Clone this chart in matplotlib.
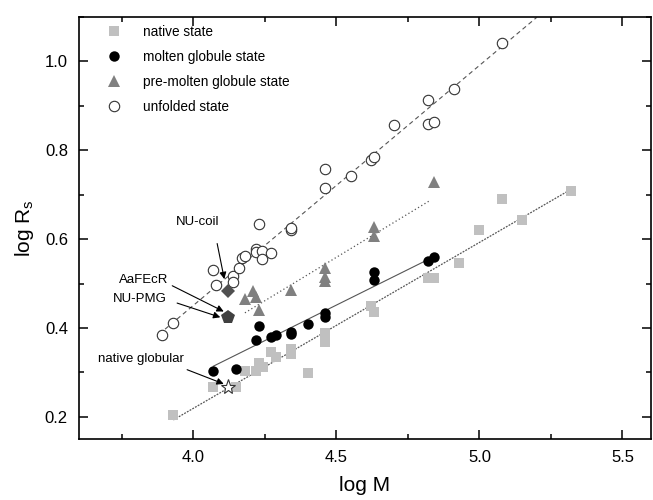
import numpy as np
import matplotlib
matplotlib.use("Agg")
import matplotlib.pyplot as plt
from matplotlib.ticker import MultipleLocator

plt.rcParams['font.family'] = ['Liberation Sans', 'DejaVu Sans']
plt.rcParams['mathtext.default'] = 'regular'

# native state (grey squares)
native_x = [3.93, 4.07, 4.15, 4.18, 4.22, 4.23, 4.245, 4.27, 4.29, 4.34, 4.34, 4.40,
            4.46, 4.46, 4.46, 4.62, 4.63, 4.82, 4.84, 4.93, 5.00, 5.08, 5.15, 5.32]
native_y = [0.205, 0.268, 0.268, 0.303, 0.303, 0.322, 0.312, 0.345, 0.334, 0.352, 0.342, 0.298,
            0.389, 0.379, 0.369, 0.449, 0.437, 0.512, 0.513, 0.547, 0.620, 0.690, 0.643, 0.708]

# molten globule state (black circles)
mg_x = [4.07, 4.15, 4.22, 4.23, 4.27, 4.29, 4.34, 4.34, 4.40, 4.46, 4.46, 4.63, 4.63, 4.82, 4.84]
mg_y = [0.304, 0.307, 0.373, 0.404, 0.380, 0.385, 0.387, 0.392, 0.409, 0.433, 0.424,
        0.525, 0.507, 0.551, 0.560]

# pre-molten globule state (grey triangles)
pmg_x = [4.18, 4.21, 4.22, 4.23, 4.34, 4.46, 4.46, 4.46, 4.63, 4.63, 4.84]
pmg_y = [0.465, 0.484, 0.470, 0.440, 0.485, 0.534, 0.515, 0.505, 0.627, 0.607, 0.728]

# unfolded state (open circles)
unf_x = [3.89, 3.93, 4.07, 4.08, 4.14, 4.14, 4.16, 4.17, 4.18, 4.22, 4.22, 4.24, 4.24, 4.27,
         4.23, 4.34, 4.34, 4.46, 4.46, 4.55, 4.62, 4.63, 4.70, 4.82, 4.82, 4.84, 4.91, 5.08]
unf_y = [0.383, 0.412, 0.531, 0.497, 0.517, 0.504, 0.535, 0.557, 0.562, 0.577, 0.570, 0.574,
         0.556, 0.569, 0.634, 0.620, 0.626, 0.757, 0.716, 0.742, 0.778, 0.785, 0.857, 0.914,
         0.858, 0.864, 0.939, 1.042]

# fitted lines (end points)
fit_unf_x, fit_unf_y = [3.88, 5.20], [0.386, 1.099]
fit_pmg_x, fit_pmg_y = [4.18, 4.83], [0.434, 0.688]
fit_mg_x, fit_mg_y = [4.07, 4.83], [0.314, 0.557]
fit_nat_x, fit_nat_y = [3.93, 5.32], [0.193, 0.712]

# single proteins
nucoil_x, nucoil_y = 4.12, 0.484      # diamond
pmg_pent_x, pmg_pent_y = 4.12, 0.425  # pentagon (NU-PMG / AaFEcR)
globular_x, globular_y = 4.12, 0.268  # star

fig = plt.figure(figsize=(6.53, 5.0), dpi=100)
ax = fig.add_axes([0.121, 0.122, 0.876, 0.844])

ax.plot(fit_unf_x, fit_unf_y, color='#555555', lw=0.8, ls=(0, (4, 3)), zorder=2)
ax.plot(fit_pmg_x, fit_pmg_y, color='#555555', lw=0.9, ls=(0, (1, 2)), zorder=2)
ax.plot(fit_mg_x, fit_mg_y, color='#555555', lw=0.8, ls='-', zorder=2)
ax.plot(fit_nat_x, fit_nat_y, color='#555555', lw=0.9, ls=(0, (1.5, 1)), zorder=2)

ax.plot(native_x, native_y, 's', color='#c0c0c0', ms=6.8, mew=0, ls='none',
        label='native state', zorder=3)
ax.plot(mg_x, mg_y, 'o', color='black', ms=7.5, mew=0, ls='none',
        label='molten globule state', zorder=3)
ax.plot(pmg_x, pmg_y, '^', color='#808080', ms=8, mew=0, ls='none',
        label='pre-molten globule state', zorder=3)
ax.plot(unf_x, unf_y, 'o', mfc='white', mec='#333333', mew=0.8, ms=7.5, ls='none',
        label='unfolded state', zorder=3)

ax.plot(nucoil_x, nucoil_y, 'D', color='#505050', ms=7, mew=0, zorder=4)
ax.plot(pmg_pent_x, pmg_pent_y, 'p', color='#404040', ms=10.5, mew=0, zorder=4)
ax.plot(globular_x, globular_y, '*', mfc='white', mec='#333333', mew=0.8, ms=11, zorder=4)

arrow = dict(arrowstyle='-|>', color='black', lw=0.8, mutation_scale=10, shrinkA=0, shrinkB=0)
ax.annotate('', xy=(4.108, 0.510), xytext=(4.083, 0.590), arrowprops=arrow, zorder=5)
ax.annotate('', xy=(4.106, 0.437), xytext=(3.926, 0.495), arrowprops=arrow, zorder=5)
ax.annotate('', xy=(4.094, 0.424), xytext=(3.943, 0.456), arrowprops=arrow, zorder=5)
ax.annotate('', xy=(4.106, 0.274), xytext=(3.978, 0.306), arrowprops=arrow, zorder=5)

ax.text(4.014, 0.638, 'NU-coil', ha='center', va='center', fontsize=9.5)
ax.text(3.826, 0.508, 'AaFEcR', ha='center', va='center', fontsize=9.5)
ax.text(3.812, 0.465, 'NU-PMG', ha='center', va='center', fontsize=9.5)
ax.text(3.815, 0.330, 'native globular', ha='center', va='center', fontsize=9.5)

ax.set_xlim(3.6, 5.6)
ax.set_ylim(0.15, 1.1)
ax.xaxis.set_major_locator(MultipleLocator(0.5))
ax.xaxis.set_minor_locator(MultipleLocator(0.25))
ax.yaxis.set_major_locator(MultipleLocator(0.2))
ax.yaxis.set_minor_locator(MultipleLocator(0.1))
ax.xaxis.set_major_formatter(matplotlib.ticker.FormatStrFormatter('%.1f'))
ax.yaxis.set_major_formatter(matplotlib.ticker.FormatStrFormatter('%.1f'))
ax.tick_params(which='both', direction='in', top=True, right=True, width=1.1,
               labelsize=12, pad=8)
ax.tick_params(which='major', length=6.5)
ax.tick_params(which='minor', length=3.5)
for s in ax.spines.values():
    s.set_linewidth(1.2)

ax.set_xlabel('log M', fontsize=15, labelpad=8)
ax.set_ylabel('log R$_{s}$', fontsize=15, labelpad=6)

ax.legend(loc='upper left', frameon=False, fontsize=9.8, labelspacing=0.8,
          handletextpad=1.6, borderaxespad=0.2, bbox_to_anchor=(0.035, 1.0),
          handlelength=1.0)

fig.savefig('out.png', dpi=100)
